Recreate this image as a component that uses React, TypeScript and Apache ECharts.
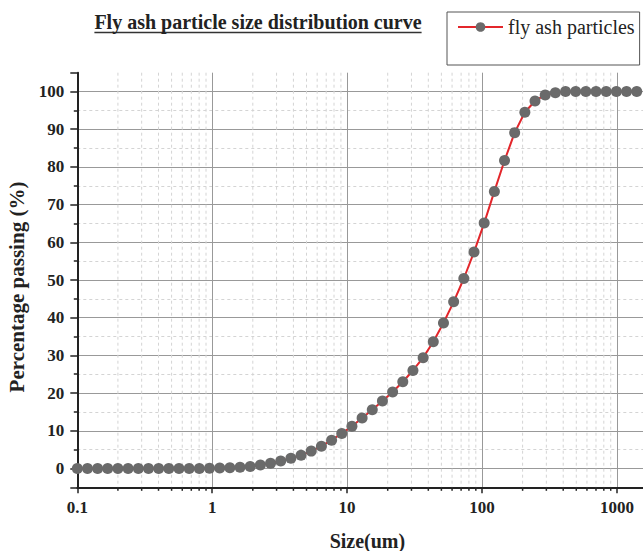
import React, { useEffect, useRef } from 'react';
import * as echarts from 'echarts';

const titleText = 'Fly ash particle size distribution curve';
const seriesName = 'fly ash particles';
const xAxisName = 'Size(um)';
const yAxisName = 'Percentage passing (%)';

// particle size (um)
const sizes = [
  0.1, 0.119, 0.1415, 0.168, 0.2, 0.238, 0.2835, 0.337, 0.401, 0.477,
  0.5675, 0.675, 0.803, 0.955, 1.137, 1.352, 1.608, 1.913, 2.276, 2.707,
  3.221, 3.831, 4.558, 5.422, 6.45, 7.674, 9.13, 10.86, 12.92, 15.37,
  18.28, 21.75, 25.88, 30.78, 36.62, 43.55, 51.82, 61.64, 73.33, 87.24,
  103.8, 123.5, 146.9, 174.7, 207.8, 247.2, 294.1, 349.9, 416.2, 495.1,
  588.8, 700.5, 833.3, 991.3, 1179, 1403,
];
// cumulative percentage passing
const passing = [
  0, 0, 0, 0, 0, 0, 0, 0, 0, 0,
  0, 0, 0, 0.05, 0.1, 0.2, 0.3, 0.5, 0.9, 1.4,
  2.0, 2.7, 3.5, 4.6, 5.9, 7.5, 9.3, 11.2, 13.4, 15.6,
  17.9, 20.3, 23.0, 26.0, 29.4, 33.6, 38.6, 44.2, 50.4, 57.4,
  65.1, 73.5, 81.7, 89.1, 94.5, 97.5, 99.1, 99.7, 100, 100,
  100, 100, 100, 100, 100, 100,
];
const xMinorTicks = [
  0.2, 0.3, 0.4, 0.5, 0.6, 0.7, 0.8, 0.9,
  2, 3, 4, 5, 6, 7, 8, 9,
  20, 30, 40, 50, 60, 70, 80, 90,
  200, 300, 400, 500, 600, 700, 800, 900,
];

const SERIF = "'Liberation Serif', 'Times New Roman', serif";
const INK = '#222';

export default function App() {
  const ref = useRef<HTMLDivElement>(null);
  useEffect(() => {
    const chart = echarts.init(ref.current!, null, { renderer: 'svg' });
    const ctx = document.createElement('canvas').getContext('2d')!;
    ctx.font = `bold 20px ${SERIF}`;
    const tw = ctx.measureText(titleText).width;
    const titleCx = 258;

    chart.setOption({
      animation: false,
      backgroundColor: '#fff',
      title: {
        text: titleText,
        left: titleCx - tw / 2,
        top: 12,
        padding: 0,
        textStyle: { fontFamily: SERIF, fontWeight: 'bold', fontSize: 20, color: INK },
      },
      graphic: [
        {
          type: 'line',
          shape: { x1: titleCx - tw / 2, y1: 32.5, x2: titleCx + tw / 2, y2: 32.5 },
          style: { stroke: '#333', lineWidth: 1.5 },
        },
      ],
      legend: {
        data: [seriesName],
        left: 447,
        top: 12,
        orient: 'vertical',
        padding: [5, 5, 28, 10],
        borderColor: '#555',
        borderWidth: 1,
        itemWidth: 45,
        itemHeight: 12,
        textStyle: { fontFamily: SERIF, fontSize: 20, color: INK },
      },
      grid: {
        left: 77.3,
        top: 72.7,
        right: -14.5,
        bottom: 63.7,
        containLabel: false,
        outerBoundsMode: 'none',
      },
      xAxis: {
        type: 'log',
        logBase: 10,
        min: 0.1,
        max: 2000,
        name: xAxisName,
        nameLocation: 'middle',
        nameGap: 44,
        nameTextStyle: { fontFamily: SERIF, fontWeight: 'bold', fontSize: 20, color: INK },
        axisLine: { show: true, onZero: false, lineStyle: { color: INK, width: 2 } },
        axisTick: { show: true, length: 6, lineStyle: { color: INK, width: 1.5 } },
        axisLabel: {
          margin: 12,
          fontFamily: SERIF,
          fontWeight: 'bold',
          fontSize: 17,
          color: INK,
          formatter: (v: number) => {
            const l = Math.log10(v);
            return Math.abs(l - Math.round(l)) < 1e-6 ? String(v) : '';
          },
        },
        splitLine: { show: true, showMinLine: false, showMaxLine: false, lineStyle: { color: '#999', width: 1 } },
      },
      yAxis: {
        type: 'value',
        min: -5,
        max: 105,
        minInterval: 10,
        maxInterval: 10,
        name: yAxisName,
        nameLocation: 'middle',
        nameGap: 50,
        nameRotate: 90,
        nameTextStyle: {
          fontFamily: SERIF,
          fontWeight: 'bold',
          fontSize: 21,
          color: INK,
          padding: [0, 14, 0, 0],
        },
        axisLine: { show: true, onZero: false, lineStyle: { color: INK, width: 2 } },
        axisTick: { show: true, length: 7, lineStyle: { color: INK, width: 1.5 } },
        minorTick: { show: true, splitNumber: 2, length: 3.5, lineStyle: { color: INK, width: 1.5 } },
        axisLabel: {
          margin: 13,
          fontFamily: SERIF,
          fontWeight: 'bold',
          fontSize: 17,
          color: INK,
          formatter: (v: number) => (v % 10 === 0 ? String(v) : ''),
        },
        splitLine: { show: true, showMinLine: false, showMaxLine: false, lineStyle: { color: '#999', width: 1 } },
        minorSplitLine: { show: true, lineStyle: { color: '#d4d4d4', width: 1, type: [3, 3] } },
      },
      series: [
        {
          type: 'custom',
          name: 'minor-grid',
          silent: true,
          z: 1,
          data: xMinorTicks.map((v) => [v, -5]),
          renderItem: (_params: any, api: any) => {
            const v = api.value(0);
            const top = api.coord([v, 105]);
            const bot = api.coord([v, -5]);
            return {
              type: 'group',
              children: [
                {
                  type: 'line',
                  shape: { x1: top[0], y1: top[1], x2: bot[0], y2: bot[1] },
                  style: { stroke: '#d4d4d4', lineWidth: 1, lineDash: [3, 3] },
                },
                {
                  type: 'line',
                  shape: { x1: bot[0], y1: bot[1], x2: bot[0], y2: bot[1] + 3.5 },
                  style: { stroke: INK, lineWidth: 1.5 },
                },
              ],
            };
          },
        },
        {
          type: 'line',
          name: seriesName,
          z: 3,
          data: sizes.map((s, i) => [s, passing[i]]),
          symbol: 'circle',
          symbolSize: 11,
          showSymbol: true,
          itemStyle: { color: '#6a6a6a' },
          lineStyle: { color: '#e3262b', width: 2 },
        },
      ],
    });
    return () => chart.dispose();
  }, []);
  return (
    <div
      ref={ref}
      style={{ position: 'fixed', left: 0, top: 0, width: 643, height: 551, background: '#fff' }}
    />
  );
}
